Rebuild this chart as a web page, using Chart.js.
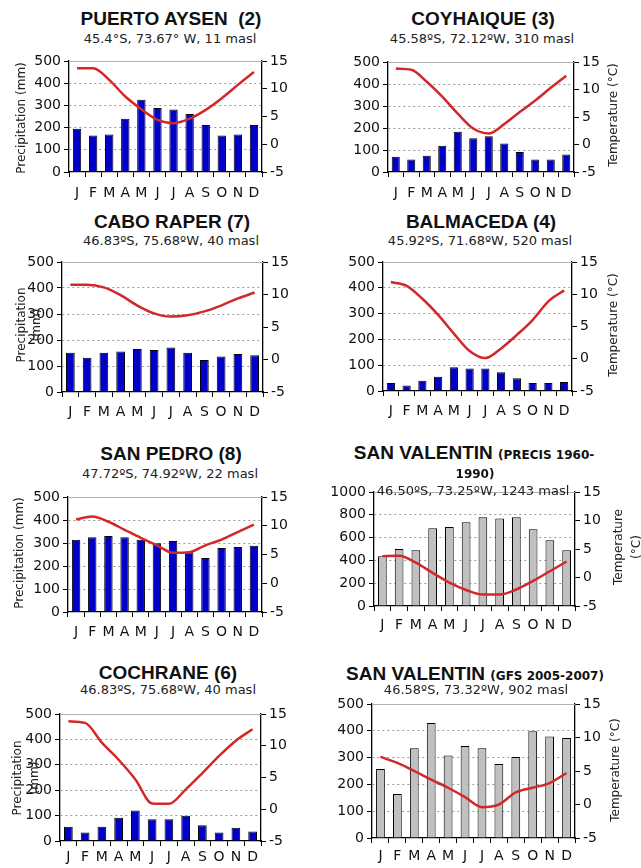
<!DOCTYPE html>
<html><head><meta charset="utf-8">
<script src="https://cdn.jsdelivr.net/npm/chart.js@4.4.1/dist/chart.umd.min.js"></script>
<style>
body{margin:0;background:#fff;width:641px;height:868px;position:relative;overflow:hidden;font-family:"DejaVu Sans",sans-serif;}
canvas{position:absolute;}
.t{position:absolute;white-space:nowrap;line-height:1;transform:translate(-50%,-50%);color:#111;z-index:2;}
.title{font-family:"Liberation Sans",Arial,sans-serif;font-weight:bold;font-size:19px;}
.title small{font-family:"DejaVu Sans",sans-serif;font-size:12px;font-weight:bold;}
.sub{font-size:13px;color:#222;}
.ax{font-size:12px;color:#222;transform:translate(-50%,-50%) rotate(-90deg);}
</style></head>
<body>
<script>
// ---- data ----
const months = ['J','F','M','A','M','J','J','A','S','O','N','D'];
const precipTicks500 = [0,100,200,300,400,500];
const precipTicks1000 = [0,200,400,600,800,1000];
const tempTicks = [-5,0,5,10,15];

const puertoAysenPrecip = [195,164,169,240,325,288,282,261,212,164,169,212];
const puertoAysenTemp   = [13.7,13.7,11.6,8.6,6.3,4.4,3.8,4.6,6.2,8.3,10.7,13.0];

const coyhaiquePrecip = [69,57,74,119,183,153,163,130,91,57,57,80];
const coyhaiqueTemp   = [13.8,13.6,11.4,8.7,5.6,2.9,2.0,3.7,5.9,8.0,10.3,12.5];

const caboRaperPrecip = [151,132,151,156,165,162,171,151,123,137,146,141];
const caboRaperTemp   = [11.5,11.5,11.1,9.9,8.3,7.1,6.6,6.8,7.4,8.3,9.4,10.3];

const balmacedaPrecip = [31,21,40,55,92,87,87,73,49,31,31,35];
const balmacedaTemp   = [11.9,11.3,9.3,6.8,3.9,1.2,0.1,1.6,3.7,6.0,8.9,10.6];

const sanPedroPrecip = [314,325,330,325,314,299,309,259,235,278,283,288];
const sanPedroTemp   = [11.1,11.6,10.7,9.3,7.9,6.6,5.3,5.4,6.6,7.6,8.9,10.2];

const sanValentinPrecisPrecip = [437,501,490,682,694,735,778,767,778,673,577,490];
const sanValentinPrecisTemp   = [3.75,3.8,2.6,0.8,-0.9,-2.2,-3.0,-3.0,-2.1,-0.6,1.1,2.8];

const cochranePrecip = [56,33,56,92,120,86,86,99,62,33,52,37];
const cochraneTemp   = [13.85,13.6,10.5,7.8,4.7,0.9,0.85,3.1,5.7,8.4,10.8,12.6];

const sanValentinGfsPrecip = [257,164,335,429,308,343,335,276,302,398,379,373];
const sanValentinGfsTemp   = [7.1,6.2,5.0,3.7,2.5,1.1,-0.4,0.0,1.8,2.5,3.2,4.7];

// ---- drawing ----
const BLUE = '#0000c8', GREY = '#c0c0c0', RED = '#d2282a';
const tickFont = {family:'DejaVu Sans', size:14};

const topLine = {
  id:'topLine',
  beforeDatasetsDraw(chart){
    const {ctx, chartArea:a} = chart;
    ctx.save(); ctx.strokeStyle='#b0b0b0'; ctx.lineWidth=1;
    ctx.beginPath(); ctx.moveTo(a.left, Math.round(a.top)+0.5); ctx.lineTo(a.right, Math.round(a.top)+0.5); ctx.stroke();
    ctx.restore();
  }
};

function addText(cls, html, x, y){
  const d = document.createElement('div');
  d.className = 't ' + cls; d.innerHTML = html;
  d.style.left = x + 'px'; d.style.top = y + 'px';
  document.body.appendChild(d);
}

function makeChart(box, precip, temp, pTicks, barColor, labelPad){
  const padL = 50, padR = 40, padT = 12, padB = 34;
  const w = box.R - box.L + padL + padR, h = box.B - box.T + padT + padB;
  const c = document.createElement('canvas');
  c.width = w; c.height = h; c.style.width = w+'px'; c.style.height = h+'px';
  c.style.left = (box.L - padL) + 'px'; c.style.top = (box.T - padT) + 'px';
  document.body.appendChild(c);
  const pMax = pTicks[pTicks.length-1];
  new Chart(c, {
    data:{
      labels: months,
      datasets:[
        {type:'line', data:temp, yAxisID:'yT', borderColor:RED, borderWidth:2.5, pointRadius:0, cubicInterpolationMode:'monotone', fill:false, order:0},
        {type:'bar', data:precip, yAxisID:'yP', backgroundColor:barColor, borderColor:'#000', borderWidth:1, barPercentage:0.52, categoryPercentage:1, order:1}
      ]
    },
    options:{
      responsive:false, animation:false, devicePixelRatio:1,
      layout:{padding:{top:padT,left:0,right:0,bottom:0}},
      plugins:{legend:{display:false}, tooltip:{enabled:false}, title:{display:false}},
      scales:{
        x:{
          position:'bottom', offset:true,
          grid:{offset:true, drawOnChartArea:false, drawTicks:true, tickLength:5, color:'#000', tickColor:'#000'},
          border:{color:'#000', width:1.3},
          ticks:{padding:labelPad, color:'#111', font:tickFont, maxRotation:0, autoSkip:false},
          afterFit(s){ s.height = padB; }
        },
        yP:{
          position:'left', min:pTicks[0], max:pMax,
          afterBuildTicks(s){ s.ticks = pTicks.map(v=>({value:v})); },
          ticks:{padding:3, color:'#111', font:tickFont, callback:v=>String(v)},
          grid:{color:ctx=>(ctx.tick && ctx.tick.value>pTicks[0] && ctx.tick.value<pMax)?'#9a9a9a':'rgba(0,0,0,0)', tickColor:'#000', tickLength:5, lineWidth:1},
          border:{color:'#000', width:1.3, dash:[2,3]},
          afterFit(s){ s.width = padL; }
        },
        yT:{
          position:'right', min:tempTicks[0], max:tempTicks[tempTicks.length-1],
          afterBuildTicks(s){ s.ticks = tempTicks.map(v=>({value:v})); },
          ticks:{padding:3, color:'#111', font:tickFont, callback:v=>String(v)},
          grid:{drawOnChartArea:false, tickColor:'#000', tickLength:5, color:'#000'},
          border:{color:'#000', width:1.3},
          afterFit(s){ s.width = padR; }
        }
      }
    },
    plugins:[topLine]
  });
}

// Panel 1
makeChart({L:69,R:262,T:61,B:172}, puertoAysenPrecip, puertoAysenTemp, precipTicks500, BLUE, 8);
addText('title','PUERTO AYSEN&nbsp;&nbsp;(2)',171,18);
addText('sub','45.4°S, 73.67° W, 11 masl',170,38);
addText('ax','Precipitation (mm)',21,118);

// Panel 2
makeChart({L:388,R:574,T:62,B:172}, coyhaiquePrecip, coyhaiqueTemp, precipTicks500, BLUE, 8);
addText('title','COYHAIQUE (3)',483,18);
addText('sub','45.58ºS, 72.12ºW, 310 masl',482,38);
addText('ax','Temperature (°C)',613,115);

// Panel 3
makeChart({L:62,R:263,T:262,B:392}, caboRaperPrecip, caboRaperTemp, precipTicks500, BLUE, 7);
addText('title','CABO RAPER (7)',172,221);
addText('sub','46.83ºS, 75.68ºW, 40 masl',171,240);
addText('ax','Precipitation',21,325);
addText('ax','(mm)',36,325);

// Panel 4
makeChart({L:383,R:572,T:262,B:391}, balmacedaPrecip, balmacedaTemp, precipTicks500, BLUE, 7);
addText('title','BALMACEDA (4)',481,221);
addText('sub','45.92ºS, 71.68ºW, 520 masl',480,240);
addText('ax','Temperature (°C)',613,325);

// Panel 5
makeChart({L:68,R:262,T:497,B:612}, sanPedroPrecip, sanPedroTemp, precipTicks500, BLUE, 7);
addText('title','SAN PEDRO (8)',171,453);
addText('sub','47.72ºS, 74.92ºW, 22 masl',170,473);
addText('ax','Precipitation (mm)',19,553);

// Panel 6
makeChart({L:374,R:575,T:492,B:606}, sanValentinPrecisPrecip, sanValentinPrecisTemp, precipTicks1000, GREY, 6);
addText('title','SAN VALENTIN <small>(PRECIS 1960-</small>',474,452);
addText('title','<small>1990)</small>',475,471);
addText('sub','46.50ºS, 73.25ºW, 1243 masl',473,490);
addText('ax','Temperature',618,547);
addText('ax','(°C)',636,547);

// Panel 7
makeChart({L:60,R:261,T:714,B:841}, cochranePrecip, cochraneTemp, precipTicks500, BLUE, 3);
addText('title','COCHRANE (6)',168,672);
addText('sub','46.83ºS, 75.68ºW, 40 masl',168,689);
addText('ax','Precipitation',17,778);
addText('ax','(mm)',34,778);

// Panel 8
makeChart({L:372,R:575,T:704,B:838}, sanValentinGfsPrecip, sanValentinGfsTemp, precipTicks500, GREY, 5);
addText('title','SAN VALENTIN <small>(GFS 2005-2007)</small>',475,673);
addText('sub','46.58ºS, 73.32ºW, 902 masl',476,689);
addText('ax','Temperature (°C)',615,770);
</script>
</body></html>
